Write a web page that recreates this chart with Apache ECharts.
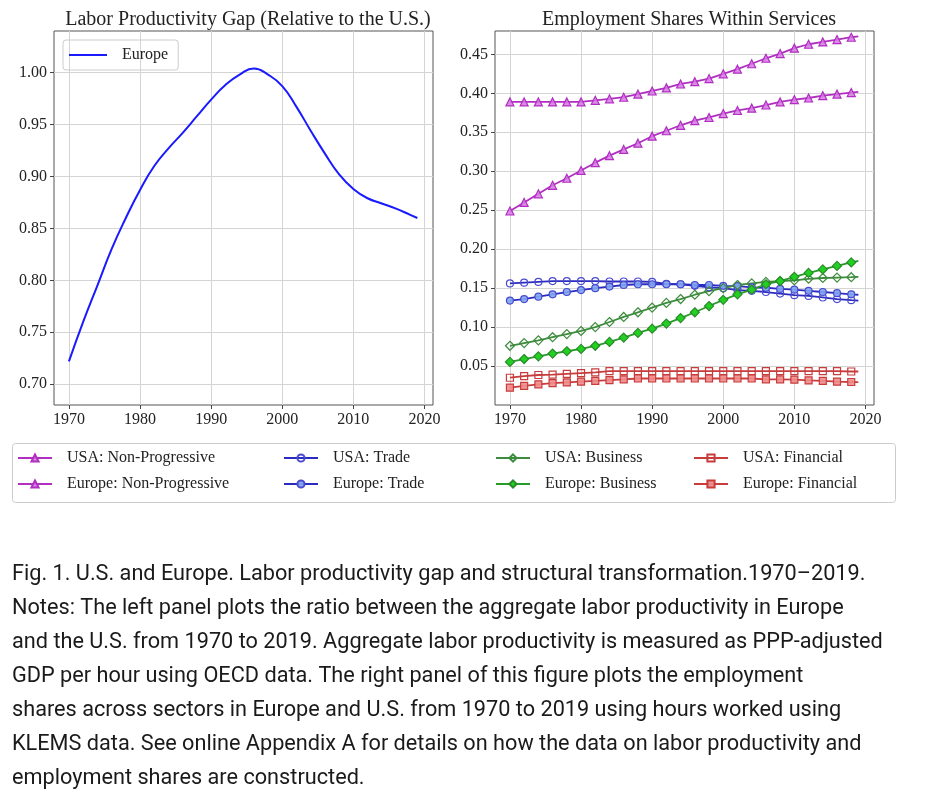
<!DOCTYPE html>
<html>
<head>
<meta charset="utf-8">
<script src="https://cdn.jsdelivr.net/npm/echarts@6/dist/echarts.min.js"></script>
<style>
  html, body { margin: 0; padding: 0; background: #fff; }
  #chart { width: 930px; height: 800px; }
</style>
</head>
<body>
<div id="chart"></div>
<script>
// left panel: labor productivity Europe / U.S.
var gapYears = [1970, 1972, 1974, 1976, 1978, 1980, 1982, 1984, 1986, 1988, 1990, 1992, 1994,
                1996, 1998, 2000, 2002, 2004, 2006, 2008, 2010, 2012, 2014, 2016, 2018, 2019];
var gapEurope = [0.722, 0.760, 0.795, 0.830, 0.860, 0.887, 0.910, 0.927, 0.942, 0.958, 0.974, 0.988, 0.998,
                 1.004, 0.998, 0.987, 0.967, 0.944, 0.922, 0.902, 0.888, 0.879, 0.874, 0.869, 0.863, 0.860];

// right panel: employment shares within services (markers every 2 years, line ends 2019)
var shareYears = [1970, 1972, 1974, 1976, 1978, 1980, 1982, 1984, 1986, 1988, 1990, 1992, 1994,
                  1996, 1998, 2000, 2002, 2004, 2006, 2008, 2010, 2012, 2014, 2016, 2018, 2019];
var usaNonProg = [0.389, 0.389, 0.389, 0.389, 0.389, 0.389, 0.391, 0.393, 0.395, 0.399, 0.403, 0.407, 0.412,
                  0.415, 0.419, 0.425, 0.431, 0.438, 0.445, 0.451, 0.458, 0.463, 0.466, 0.469, 0.472, 0.473];
var eurNonProg = [0.249, 0.260, 0.271, 0.282, 0.291, 0.301, 0.311, 0.320, 0.328, 0.336, 0.345, 0.352, 0.359,
                  0.365, 0.369, 0.374, 0.378, 0.381, 0.385, 0.389, 0.392, 0.394, 0.397, 0.399, 0.401, 0.402];
var usaTrade = [0.156, 0.157, 0.158, 0.159, 0.159, 0.159, 0.159, 0.1585, 0.1585, 0.1585, 0.158, 0.1555, 0.155,
                0.153, 0.151, 0.150, 0.1475, 0.1465, 0.145, 0.143, 0.141, 0.140, 0.138, 0.136, 0.1345, 0.134];
var eurTrade = [0.134, 0.136, 0.139, 0.142, 0.145, 0.1475, 0.150, 0.152, 0.154, 0.155, 0.155, 0.155, 0.155,
                0.154, 0.154, 0.153, 0.1525, 0.151, 0.1505, 0.149, 0.148, 0.1465, 0.145, 0.1435, 0.142, 0.1415];
var usaBusiness = [0.076, 0.0795, 0.083, 0.087, 0.091, 0.095, 0.100, 0.1065, 0.113, 0.119, 0.125, 0.131, 0.136,
                   0.1415, 0.146, 0.150, 0.154, 0.156, 0.158, 0.159, 0.160, 0.162, 0.163, 0.1635, 0.164, 0.1645];
var eurBusiness = [0.0553, 0.059, 0.0625, 0.066, 0.069, 0.072, 0.076, 0.081, 0.0865, 0.0925, 0.098, 0.1045, 0.1115,
                   0.119, 0.127, 0.135, 0.142, 0.148, 0.155, 0.159, 0.1645, 0.1695, 0.174, 0.1785, 0.183, 0.185];
var usaFinancial = [0.035, 0.037, 0.0385, 0.039, 0.040, 0.041, 0.042, 0.0435, 0.0435, 0.0435, 0.0435, 0.0435, 0.0435,
                    0.0435, 0.0435, 0.0435, 0.0435, 0.0435, 0.0435, 0.0435, 0.0435, 0.0435, 0.0435, 0.0435, 0.043, 0.043];
var eurFinancial = [0.0223, 0.0245, 0.0265, 0.028, 0.029, 0.030, 0.031, 0.032, 0.033, 0.034, 0.034, 0.034, 0.034,
                    0.034, 0.034, 0.034, 0.034, 0.034, 0.033, 0.033, 0.0325, 0.0315, 0.031, 0.030, 0.0295, 0.0293];

var yearTicks = [1970, 1980, 1990, 2000, 2010, 2020];
var gapTicks = [0.70, 0.75, 0.80, 0.85, 0.90, 0.95, 1.00];
var shareTicks = [0.05, 0.10, 0.15, 0.20, 0.25, 0.30, 0.35, 0.40, 0.45];

var captionLines = [
    'Fig. 1. U.S. and Europe. Labor productivity gap and structural transformation.1970\u20132019.',
    'Notes: The left panel plots the ratio between the aggregate labor productivity in Europe',
    'and the U.S. from 1970 to 2019. Aggregate labor productivity is measured as PPP-adjusted',
    'GDP per hour using OECD data. The right panel of this figure plots the employment',
    'shares across sectors in Europe and U.S. from 1970 to 2019 using hours worked using',
    'KLEMS data. See online Appendix A for details on how the data on labor productivity and',
    'employment shares are constructed.'
];

var serif = 'Liberation Serif';
var textColor = '#222';

function pairs(xs, ys) {
    return xs.map(function (x, i) { return [x, ys[i]]; });
}

function xAxisFor(gridIndex) {
    return {
        type: 'value', gridIndex: gridIndex, min: 1967.9, max: 2021.2,
        axisLine: { show: false },
        axisTick: { show: true, customValues: yearTicks, length: 4, lineStyle: { color: '#444' } },
        axisLabel: {
            customValues: yearTicks, color: textColor, fontFamily: serif, fontSize: 16, margin: 7,
            formatter: function (v) { return String(v); }
        },
        splitLine: { show: true, lineStyle: { color: '#d4d4d4', width: 1 } }
    };
}

function yAxisFor(gridIndex, min, max, ticks) {
    return {
        type: 'value', gridIndex: gridIndex, min: min, max: max,
        axisLine: { show: false },
        axisTick: { show: true, customValues: ticks, length: 4, lineStyle: { color: '#444' } },
        axisLabel: {
            customValues: ticks, color: textColor, fontFamily: serif, fontSize: 16, margin: 7,
            formatter: function (v) { return v.toFixed(2); }
        },
        splitLine: { show: true, lineStyle: { color: '#d4d4d4', width: 1 } }
    };
}

// one sector line on the right panel
function shareSeries(name, values, symbol, lineColor, fill, borderColor, size) {
    return {
        name: name, type: 'line', xAxisIndex: 1, yAxisIndex: 1,
        data: pairs(shareYears, values),
        symbol: symbol,
        symbolSize: function (v) { return v[0] === 2019 ? 0 : size; },
        showAllSymbol: true,
        lineStyle: { color: lineColor, width: 1.8 },
        itemStyle: { color: fill, borderColor: borderColor, borderWidth: 1.2 },
        emphasis: { disabled: true },
        animation: false
    };
}

var npLine = '#b02fc0', npFill = 'rgba(214,120,228,0.85)';
var trLine = '#2b2bbf', trFill = 'rgba(128,166,240,0.9)';
var buLineUS = '#3d8b3d', buLineEU = '#289a28', buFill = '#22d022';
var fiLine = '#c83c3c', fiFill = 'rgba(240,140,140,0.9)';
var hollow = 'rgba(255,255,255,0)';

function legendColumn(left, names) {
    return {
        orient: 'vertical', left: left, top: 450, padding: 0,
        data: names, itemWidth: 34, itemHeight: 9, itemGap: 10,
        textStyle: { fontFamily: serif, fontSize: 16, color: textColor, padding: [0, 0, 0, 10] },
        selectedMode: false
    };
}

var myChart = echarts.init(document.getElementById('chart'));
var option = {
    backgroundColor: '#fff',
    animation: false,
    title: [
        { text: 'Labor Productivity Gap (Relative to the U.S.)', left: 243, top: 5, textAlign: 'center',
          textStyle: { fontFamily: serif, fontSize: 20, fontWeight: 'normal', color: textColor } },
        { text: 'Employment Shares Within Services', left: 684, top: 5, textAlign: 'center',
          textStyle: { fontFamily: serif, fontSize: 20, fontWeight: 'normal', color: textColor } }
    ],
    grid: [
        { left: 54, top: 31, width: 379, height: 374, show: true, borderColor: '#555', borderWidth: 1 },
        { left: 495, top: 31, width: 379, height: 374, show: true, borderColor: '#555', borderWidth: 1 }
    ],
    xAxis: [xAxisFor(0), xAxisFor(1)],
    yAxis: [yAxisFor(0, 0.68, 1.04, gapTicks), yAxisFor(1, 0, 0.48, shareTicks)],
    legend: [
        {
            left: 63, top: 40, data: [{ name: 'Europe', icon: 'rect' }], itemWidth: 38, itemHeight: 2,
            padding: [7, 10, 7, 6], borderColor: '#cccccc', borderWidth: 1, borderRadius: 3,
            textStyle: { fontFamily: serif, fontSize: 16, color: textColor, padding: [0, 0, 0, 10] },
            selectedMode: false
        },
        legendColumn(17, ['USA: Non-Progressive', 'Europe: Non-Progressive']),
        legendColumn(283, ['USA: Trade', 'Europe: Trade']),
        legendColumn(495, ['USA: Business', 'Europe: Business']),
        legendColumn(693, ['USA: Financial', 'Europe: Financial'])
    ],
    series: [
        {
            name: 'Europe', type: 'line', xAxisIndex: 0, yAxisIndex: 0,
            data: pairs(gapYears, gapEurope), smooth: 0.5, symbol: 'none',
            lineStyle: { color: '#1a1aff', width: 2 }, itemStyle: { color: '#1a1aff' },
            emphasis: { disabled: true }
        },
        shareSeries('USA: Non-Progressive', usaNonProg, 'triangle', npLine, npFill, npLine, 8),
        shareSeries('Europe: Non-Progressive', eurNonProg, 'triangle', npLine, npFill, npLine, 8),
        shareSeries('USA: Trade', usaTrade, 'circle', trLine, hollow, '#4a4ad0', 7),
        shareSeries('Europe: Trade', eurTrade, 'circle', trLine, trFill, '#4a4ad0', 7),
        shareSeries('USA: Business', usaBusiness, 'diamond', buLineUS, hollow, buLineUS, 9),
        shareSeries('Europe: Business', eurBusiness, 'diamond', buLineEU, buFill, '#2a8a2a', 9),
        shareSeries('USA: Financial', usaFinancial, 'rect', fiLine, hollow, fiLine, 7),
        shareSeries('Europe: Financial', eurFinancial, 'rect', fiLine, fiFill, fiLine, 7)
    ],
    graphic: [
        {
            type: 'rect', left: 10, top: 441, silent: true,
            shape: { width: 883, height: 59, r: 3 },
            style: { fill: 'none', stroke: '#cccccc', lineWidth: 1 }
        },
        {
            type: 'text', left: 12, top: 558, silent: true,
            style: {
                text: captionLines.join('\n'),
                font: '21.7px Roboto, "Liberation Sans", sans-serif',
                fill: '#1a1a1a', lineHeight: 34
            }
        }
    ]
};
myChart.setOption(option);
</script>
</body>
</html>
